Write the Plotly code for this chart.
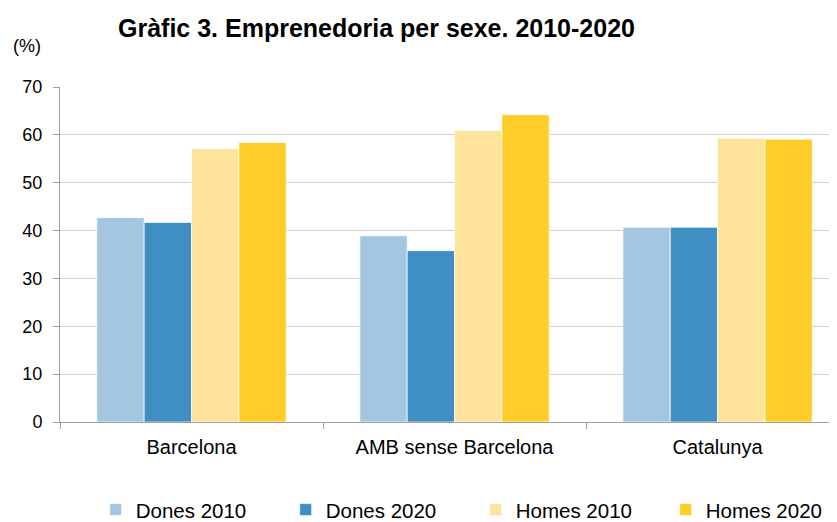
import plotly.graph_objects as go

# DATA ---------------------------------
categories = ['Barcelona', 'AMB sense Barcelona', 'Catalunya']
series_names = ['Dones 2010', 'Dones 2020', 'Homes 2010', 'Homes 2020']
dones_2010 = [42.7, 38.9, 40.7]
dones_2020 = [41.7, 35.8, 40.7]
homes_2010 = [57.1, 60.9, 59.3]
homes_2020 = [58.4, 64.2, 59.1]
y_ticks = [0, 10, 20, 30, 40, 50, 60, 70]

colors = ['#A4C7E1', '#3F8EC4', '#FEE39A', '#FECD29']
series_values = [dones_2010, dones_2020, homes_2010, homes_2020]

fig = go.Figure()
for name, vals, col in zip(series_names, series_values, colors):
    fig.add_trace(go.Bar(
        x=categories, y=vals, name=name,
        marker=dict(color=col, line=dict(color='rgba(255,255,255,0.7)', width=1)),
    ))

font_family = 'Liberation Sans, Arial, sans-serif'

# page body has an 8px margin, so the figure is drawn 8px smaller and offset
fig.update_layout(
    width=829, height=514,
    margin=dict(l=52, r=0, t=79, b=100, autoexpand=False),
    paper_bgcolor='white', plot_bgcolor='white',
    barmode='group', bargap=0.28, bargroupgap=0,
    font=dict(family=font_family, size=18, color='black'),
    showlegend=True,
    legend=dict(orientation='h', x=0.535, xanchor='center', y=-0.262, yanchor='middle',
                font=dict(size=20.5), entrywidth=145, entrywidthmode='pixels',
                itemwidth=30, traceorder='normal'),
)

fig.update_xaxes(
    range=[-0.5, 2.454], showline=True, linecolor='#A0A0A0', linewidth=1,
    ticks='outside', tickson='boundaries', ticklen=6, tickcolor='#A0A0A0',
    showgrid=False, tickfont=dict(size=20), ticklabelstandoff=7, automargin=False,
)
fig.update_yaxes(
    range=[0, 70], tickvals=y_ticks, showline=True, linecolor='#A0A0A0', linewidth=1,
    ticks='outside', ticklen=6, tickcolor='#A0A0A0',
    showgrid=True, gridcolor='#D0D0D0', gridwidth=1, zeroline=False,
    tickfont=dict(size=18), ticklabelstandoff=7, automargin=False,
)

# title and unit label
fig.add_annotation(
    xref='paper', yref='paper', x=(376 - 60) / 777, y=1 + (87 - 28) / 335,
    text='<b>Gràfic 3. Emprenedoria per sexe. 2010-2020</b>', showarrow=False,
    font=dict(size=25, color='black'), xanchor='center', yanchor='middle',
)
fig.add_annotation(
    xref='paper', yref='paper', x=(27 - 60) / 777, y=1 + (87 - 46) / 335,
    text='(%)', showarrow=False,
    font=dict(size=18, color='black'), xanchor='center', yanchor='middle',
)

fig.write_html('out.html')
